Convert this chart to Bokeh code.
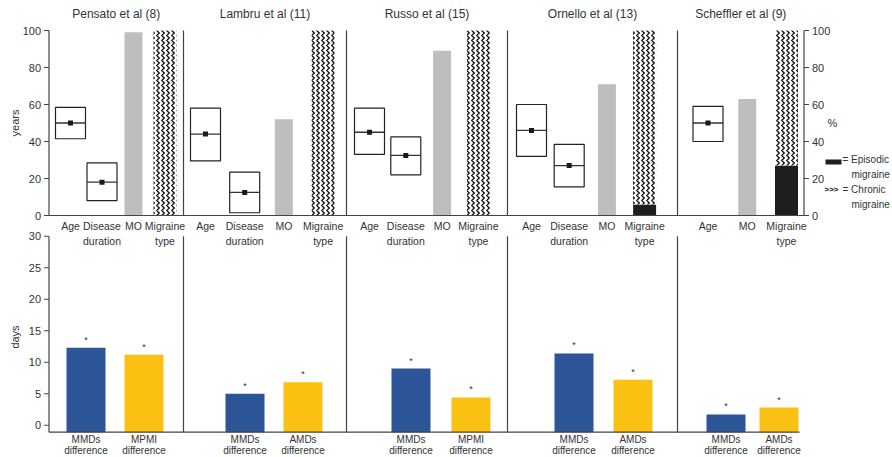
from math import pi
from bokeh.plotting import figure
from bokeh.models import Range1d
from bokeh.core.properties import value
from bokeh.embed import file_html
from bokeh.resources import INLINE

# ---------------- data ----------------
STUDIES = ["Pensato et al (8)", "Lambru et al (11)", "Russo et al (15)",
           "Ornello et al (13)", "Scheffler et al (9)"]
TOP_ITEMS = [
    ["Age", "Disease\nduration", "MO", "Migraine\ntype"],
    ["Age", "Disease\nduration", "MO", "Migraine\ntype"],
    ["Age", "Disease\nduration", "MO", "Migraine\ntype"],
    ["Age", "Disease\nduration", "MO", "Migraine\ntype"],
    ["Age", "MO", "Migraine\ntype"],
]
AGE_MEDIAN = [50, 44, 45, 46, 50]
AGE_LOW = [41.5, 29.5, 33, 32, 40]
AGE_HIGH = [58.5, 58, 58, 60, 59]
DURATION_MEDIAN = [18, 12.5, 32.5, 27, None]
DURATION_LOW = [8, 1.5, 22, 15.5, None]
DURATION_HIGH = [28.5, 23.5, 42.5, 38.5, None]
MO_PCT = [99, 52, 89, 71, 63]
EPISODIC_PCT = [0, 0, 0, 6, 27]
CHRONIC_PCT = [100, 100, 100, 94, 73]

BOTTOM_LABELS = [
    ["MMDs\ndifference", "MPMI\ndifference"],
    ["MMDs\ndifference", "AMDs\ndifference"],
    ["MMDs\ndifference", "MPMI\ndifference"],
    ["MMDs\ndifference", "AMDs\ndifference"],
    ["MMDs\ndifference", "AMDs\ndifference"],
]
MMDS_DIFF = [12.3, 5.0, 9.0, 11.4, 1.7]
SECOND_DIFF = [11.2, 6.8, 4.4, 7.2, 2.8]
SIGNIFICANT = ["*", "*"]

YEARS_TICKS = [0, 20, 40, 60, 80, 100]
PCT_TICKS = [0, 20, 40, 60, 80, 100]
DAYS_TICKS = [0, 5, 10, 15, 20, 25, 30]

# ---------------- layout (screen pixels) ----------------
FIG_W, FIG_H = 892, 457
X0, Y0 = 0, 0
X1, Y1 = X0 + FIG_W, Y0 + FIG_H
EDGES = [48.5, 183, 346, 507, 677, 803.5]
TOP_SLOTS = [(70, 31.5), (205, 39.2), (369, 36.3), (531, 37.7), (707.5, 39.25)]
BOT_SLOTS = [(85.5, 58), (244.5, 58), (410.5, 60), (573.5, 59), (725.5, 53)]
YEARS_PX = (215.0, 30.0)      # screen y of 0 and 100
DAYS_PX = (424.7, 235.7)      # screen y of 0 and 30
BOT_BASE_PX = 431.7
BOT_RIGHT_PX = 799
BOX_W, MO_W, TYPE_W, BAR_W = 30, 18, 23, 39
TICK = 5

FONT = value("Liberation Sans")
TXT = "#333333"
LINE = "#444444"
BLUE = "#2B5597"
YELLOW = "#FAC012"
GRAY = "#BEBEC0"
BLACK = "#1E1E1E"


def y_range_from(v_a, px_a, v_b, px_b):
    f = lambda px: v_a + (px - px_a) * (v_b - v_a) / (px_b - px_a)
    return Range1d(start=f(Y1), end=f(Y0))


def x_range_from(px0, pitch):
    return Range1d(start=(X0 - px0) / pitch, end=(X1 - px0) / pitch)


def days_at(px):
    return (px - DAYS_PX[0]) * 30 / (DAYS_PX[1] - DAYS_PX[0])


p = figure(width=FIG_W, height=FIG_H, output_backend="svg", toolbar_location=None,
           x_range=Range1d(X0, X1), y_range=Range1d(Y1, Y0),
           x_axis_location=None, y_axis_location=None, min_border=0)
p.grid.visible = False
p.outline_line_color = None

extra_x = {}
for k in range(len(STUDIES)):
    extra_x[f"top{k}"] = x_range_from(*TOP_SLOTS[k])
    extra_x[f"bot{k}"] = x_range_from(*BOT_SLOTS[k])
p.extra_x_ranges = extra_x
p.extra_y_ranges = {
    "years": y_range_from(0, YEARS_PX[0], 100, YEARS_PX[1]),
    "days": y_range_from(0, DAYS_PX[0], 30, DAYS_PX[1]),
}

txt = dict(text_font=FONT, text_color=TXT)

for k, study in enumerate(STUDIES):
    tr, br = f"top{k}", f"bot{k}"
    pitch = TOP_SLOTS[k][1]
    bpitch = BOT_SLOTS[k][1]
    items = TOP_ITEMS[k]
    idx = {name.split("\n")[0]: i for i, name in enumerate(items)}

    # title
    p.text(x=[(EDGES[k] + EDGES[k + 1]) / 2], y=[13], text=[study],
           text_align="center", text_baseline="middle", text_font_size="12px", **txt)

    # age / disease duration boxes
    boxes = [("Age", AGE_LOW[k], AGE_HIGH[k], AGE_MEDIAN[k])]
    if DURATION_MEDIAN[k] is not None:
        boxes.append(("Disease", DURATION_LOW[k], DURATION_HIGH[k], DURATION_MEDIAN[k]))
    for name, lo, hi, med in boxes:
        i = idx[name]
        p.vbar(x=[i], width=BOX_W / pitch, bottom=[lo], top=[hi], fill_color="white",
               line_color="#222222", line_width=1.2, x_range_name=tr, y_range_name="years")
        p.scatter(x=[i], y=[med], marker="dash", size=BOX_W, line_color="#333333",
                  line_width=1.3, x_range_name=tr, y_range_name="years")
        p.scatter(x=[i], y=[med], marker="square", size=5, fill_color="#1a1a1a",
                  line_color=None, x_range_name=tr, y_range_name="years")

    # MO bar
    p.vbar(x=[idx["MO"]], width=MO_W / pitch, bottom=[0], top=[MO_PCT[k]],
           fill_color=GRAY, line_color=None, x_range_name=tr, y_range_name="years")
    # migraine type stacked bar
    it = idx["Migraine"]
    if EPISODIC_PCT[k] > 0:
        p.vbar(x=[it], width=TYPE_W / pitch, bottom=[0], top=[EPISODIC_PCT[k]],
               fill_color=BLACK, line_color=None, x_range_name=tr, y_range_name="years")
    p.vbar(x=[it], width=TYPE_W / pitch, bottom=[EPISODIC_PCT[k]],
           top=[EPISODIC_PCT[k] + CHRONIC_PCT[k]], fill_color="white",
           hatch_pattern="vertical_wave", hatch_color="#111111", hatch_scale=5,
           hatch_weight=1.3, line_color=None, x_range_name=tr, y_range_name="years")

    # top item labels
    p.text(x=list(range(len(items))), y=[219] * len(items), text=items,
           text_align="center", text_baseline="top", text_font_size="10.5px",
           text_line_height=1.3, x_range_name=tr, **txt)

    # bottom bars
    vals = [MMDS_DIFF[k], SECOND_DIFF[k]]
    p.vbar(x=[0, 1], width=BAR_W / bpitch, bottom=days_at(BOT_BASE_PX), top=vals,
           fill_color=[BLUE, YELLOW], line_color=None, x_range_name=br, y_range_name="days")
    p.text(x=[0, 1], y=vals, text=SIGNIFICANT, text_align="center", text_baseline="middle",
           y_offset=-8, text_font_size="9px", x_range_name=br, y_range_name="days", **txt)
    p.text(x=[0, 1], y=[433, 433], text=BOTTOM_LABELS[k], text_align="center",
           text_baseline="top", text_font_size="10px", text_line_height=1.05,
           x_range_name=br, **txt)

# ---------- axes, separators ----------
p.segment(x0=EDGES, x1=EDGES, y0=0, y1=100, line_color=LINE, line_width=1.2,
          y_range_name="years")
p.segment(x0=[EDGES[0]], x1=[EDGES[-1]], y0=[0], y1=[0], line_color=LINE,
          line_width=1.2, y_range_name="years")
base_days = days_at(BOT_BASE_PX)
p.segment(x0=EDGES[:5], x1=EDGES[:5], y0=base_days, y1=30, line_color=LINE,
          line_width=1.2, y_range_name="days")
p.segment(x0=[EDGES[0]], x1=[BOT_RIGHT_PX], y0=[base_days], y1=[base_days],
          line_color=LINE, line_width=1.2, y_range_name="days")

# left years ticks
p.segment(x0=EDGES[0] - TICK, x1=EDGES[0], y0=YEARS_TICKS, y1=YEARS_TICKS,
          line_color=LINE, line_width=1.1, y_range_name="years")
p.text(x=EDGES[0] - TICK - 3, y=YEARS_TICKS, text=[str(t) for t in YEARS_TICKS],
       text_align="right", text_baseline="middle", text_font_size="11px",
       y_range_name="years", **txt)
# right % ticks
p.segment(x0=EDGES[-1], x1=EDGES[-1] + TICK, y0=PCT_TICKS, y1=PCT_TICKS,
          line_color=LINE, line_width=1.1, y_range_name="years")
p.text(x=EDGES[-1] + TICK + 3, y=PCT_TICKS, text=[str(t) for t in PCT_TICKS],
       text_align="left", text_baseline="middle", text_font_size="11px",
       y_range_name="years", **txt)
# left days ticks
p.segment(x0=EDGES[0] - TICK, x1=EDGES[0], y0=DAYS_TICKS, y1=DAYS_TICKS,
          line_color=LINE, line_width=1.1, y_range_name="days")
p.text(x=EDGES[0] - TICK - 3, y=DAYS_TICKS, text=[str(t) for t in DAYS_TICKS],
       text_align="right", text_baseline="middle", text_font_size="11px",
       y_range_name="days", **txt)

# axis titles
p.text(x=[14], y=[50], text=["years"], angle=pi / 2, text_align="center",
       text_baseline="middle", text_font_size="11px", y_range_name="years", **txt)
p.text(x=[14], y=[14], text=["days"], angle=pi / 2, text_align="center",
       text_baseline="middle", text_font_size="11px", y_range_name="days", **txt)
p.text(x=[832], y=[50], text=["%"], text_align="center", text_baseline="middle",
       text_font_size="11px", y_range_name="years", **txt)

# legend
p.rect(x=[833], y=[161.5], width=16, height=5, fill_color=BLACK, line_color=None)
p.text(x=[842, 851, 842, 851], y=[159, 174, 189, 204],
       text=["= Episodic", "migraine", "= Chronic", "migraine"],
       text_align="left", text_baseline="middle", text_font_size="10px", **txt)
p.text(x=[831], y=[189], text=[">>>"], text_align="center", text_baseline="middle",
       text_font_size="8px", text_font_style="bold", text_font=FONT, text_color="#111111")

open("out.html", "w").write(file_html(p, INLINE))
